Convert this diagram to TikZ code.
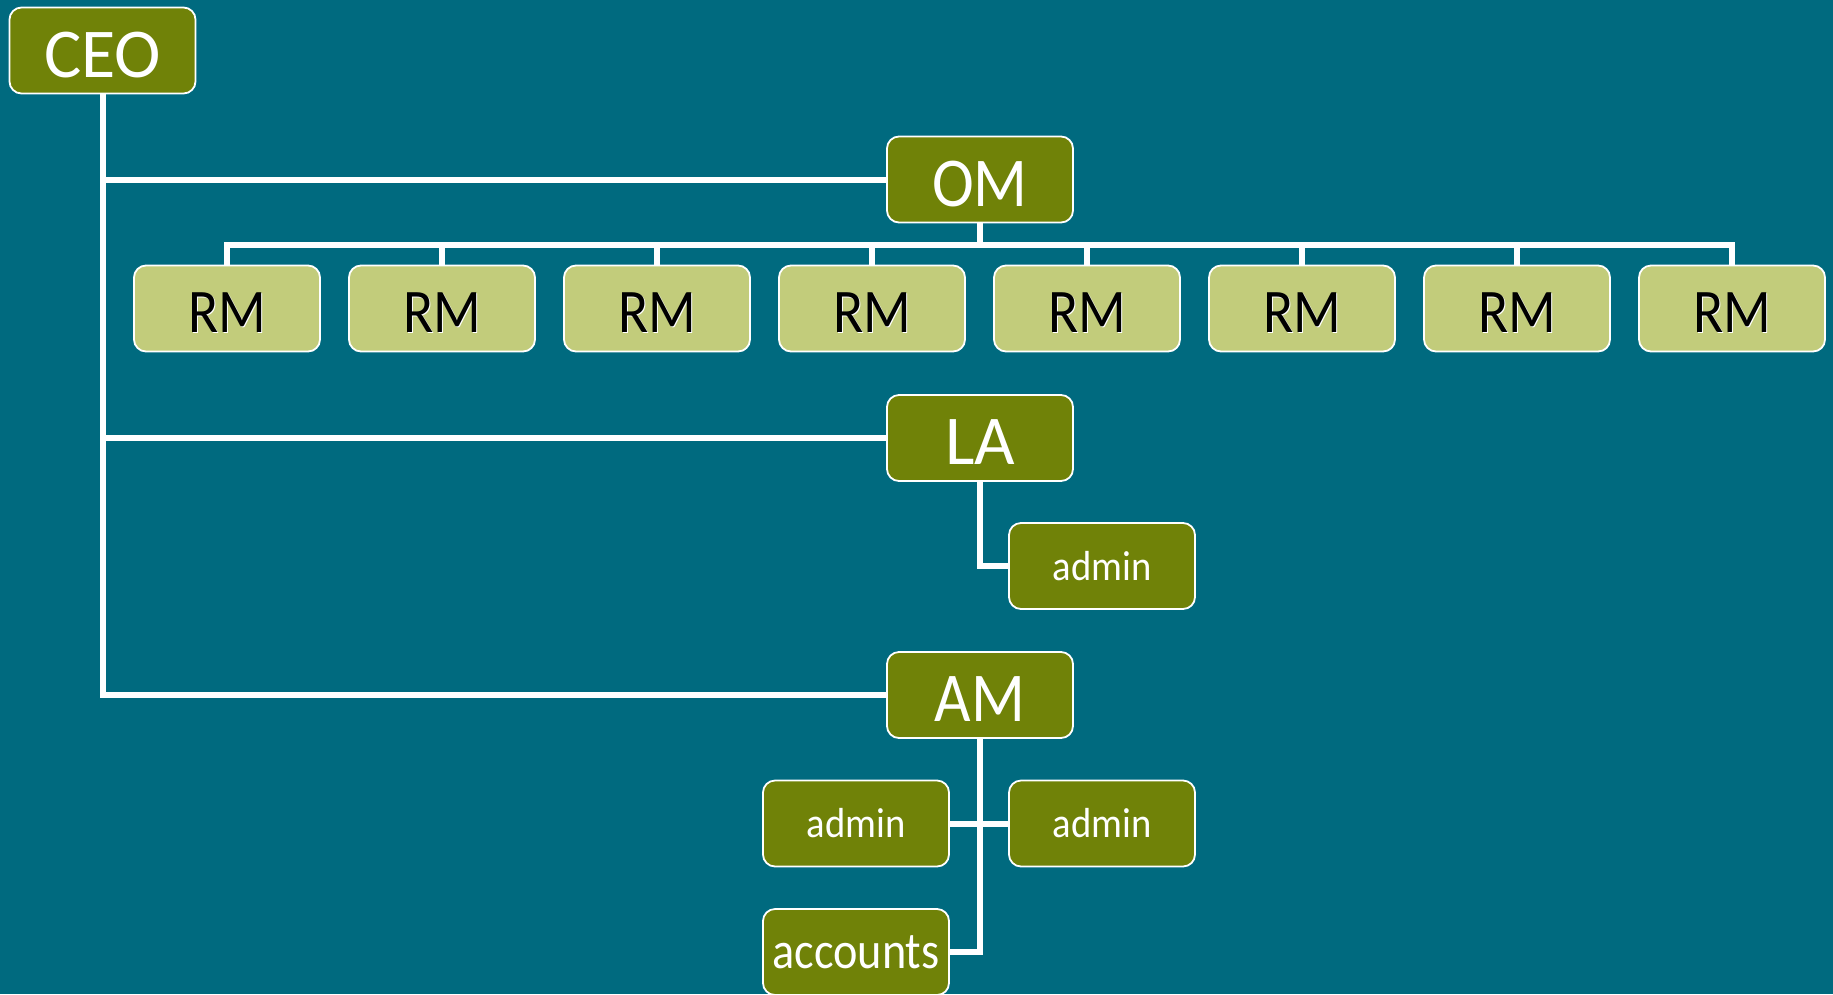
\documentclass[tikz,border=0pt]{standalone}
\usepackage{fontspec}
\setmainfont{Carlito}
\definecolor{bgteal}{HTML}{006A7F}
\definecolor{boxdark}{HTML}{708208}
\definecolor{boxlight}{HTML}{C2CC7B}
\pgfdeclarelayer{bglayer}
\pgfdeclarelayer{edgelayer}
\pgfsetlayers{bglayer,edgelayer,main}
\newcommand\shtext[1]{\makebox[0pt][l]{\hspace{1.6pt}\raisebox{-1.6pt}{\color{white}#1}}#1}
\newcommand\narrow[1]{\scalebox{0.9}[1]{#1}}
\begin{document}
\begin{tikzpicture}[x=1pt,y=-1pt,
  darkbox/.style={draw=white, line width=1.8pt, rounded corners=12pt, fill=boxdark,
    minimum width=186pt, minimum height=86pt, inner sep=0pt, text=white},
  lightbox/.style={darkbox, fill=boxlight, text=black},
  bigtext/.style={font=\fontsize{70}{80}\selectfont, text height=53pt, text depth=0pt},
  rmtext/.style={font=\fontsize{62}{70}\selectfont, text height=47pt, text depth=0pt},
  smalltext/.style={font=\fontsize{42}{50}\selectfont},
  acctext/.style={font=\fontsize{52}{60}\selectfont},
  link/.style={draw=white, line width=6pt}]
\useasboundingbox (0,0) rectangle (1833,994);
\begin{pgfonlayer}{bglayer}
  \fill[bgteal] (0,0) rectangle (1833,994);
\end{pgfonlayer}
\clip (0,0) rectangle (1833,994);

% top level
\node[darkbox, bigtext] (ceo) at (102.5,50.5) {CEO};
\node[darkbox, bigtext] (om) at (980,179.5) {\narrow{OM}};
\node[darkbox, bigtext] (la) at (980,438) {LA};
\node[darkbox, bigtext] (am) at (980,695) {\narrow{AM}};

% regional managers
\foreach \i/\x in {1/227,2/442,3/657,4/872,5/1087,6/1302,7/1517,8/1732}
  \node[lightbox, rmtext] (rm\i) at (\x,308.5) {\narrow{\shtext{RM}}};

% sub-staff
\node[darkbox, smalltext] (laadmin) at (1102,566) {\scalebox{0.92}[1]{admin}};
\node[darkbox, smalltext] (amadminl) at (856,823.5) {\scalebox{0.92}[1]{admin}};
\node[darkbox, smalltext] (amadminr) at (1102,823.5) {\scalebox{0.92}[1]{admin}};
\node[darkbox, acctext] (accounts) at (856,952) {\scalebox{0.89}[1]{accounts}};

\coordinate (bus) at (980,244.5);

\begin{pgfonlayer}{edgelayer}
  \draw[link] (ceo.south) |- (om.west);
  \draw[link] (ceo.south) |- (la.west);
  \draw[link] (ceo.south) |- (am.west);
  \draw[link] (om.south) -- (bus);
  \foreach \i in {1,...,8}
    \draw[link] (rm\i.north) |- (bus);
  \draw[link] (la.south) |- (laadmin.west);
  \draw[link] (am.south) |- (accounts.east);
  \draw[link] (amadminl.east) -- (amadminr.west);
\end{pgfonlayer}
\end{tikzpicture}
\end{document}
